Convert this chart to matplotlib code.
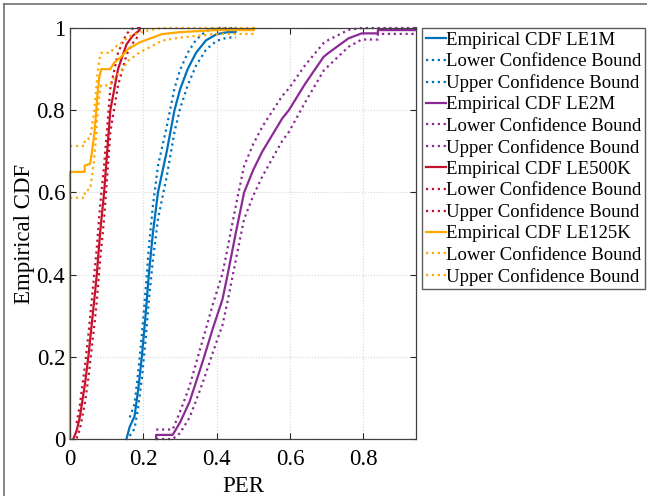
import numpy as np
import matplotlib.pyplot as plt
from matplotlib.lines import Line2D
from matplotlib.ticker import FuncFormatter

plt.rcParams["font.family"] = ["Liberation Serif", "DejaVu Serif"]

# empirical CDF knots (PER, F) for each encoder setting
per_1m = [0.154, 0.163, 0.176, 0.186, 0.196, 0.206, 0.215, 0.226, 0.240, 0.264,
          0.285, 0.300, 0.321, 0.344, 0.371, 0.400, 0.430, 0.452, 0.452]
cdf_1m = [0.0, 0.03, 0.055, 0.12, 0.20, 0.30, 0.40, 0.50, 0.60, 0.70,
          0.80, 0.85, 0.90, 0.94, 0.97, 0.985, 0.99, 0.99, 1.0]

per_2m = [0.235, 0.235, 0.280, 0.300, 0.326, 0.348, 0.366, 0.390, 0.416, 0.430,
          0.452, 0.475, 0.500, 0.525, 0.579, 0.597, 0.642, 0.692, 0.706, 0.760,
          0.796, 0.840, 0.840, 0.944, 0.944]
cdf_2m = [0.0, 0.01, 0.01, 0.04, 0.09, 0.15, 0.20, 0.27, 0.34, 0.40,
          0.50, 0.60, 0.655, 0.70, 0.78, 0.80, 0.865, 0.93, 0.94, 0.975,
          0.987, 0.987, 0.995, 0.995, 1.0]

per_500k = [0.009, 0.018, 0.027, 0.041, 0.050, 0.068, 0.073, 0.082, 0.093, 0.108,
            0.110, 0.131, 0.154, 0.170, 0.190, 0.190]
cdf_500k = [0.0, 0.02, 0.054, 0.135, 0.20, 0.354, 0.40, 0.50, 0.60, 0.776,
            0.80, 0.90, 0.96, 0.98, 0.995, 1.0]

per_125k = [0.0, 0.0, 0.040, 0.040, 0.055, 0.060, 0.066, 0.070, 0.075, 0.080,
            0.085, 0.110, 0.120, 0.140, 0.160, 0.190, 0.220, 0.250, 0.300, 0.400,
            0.502, 0.502]
cdf_125k = [0.0, 0.65, 0.65, 0.665, 0.67, 0.70, 0.74, 0.78, 0.84, 0.88,
            0.90, 0.90, 0.915, 0.93, 0.95, 0.965, 0.975, 0.985, 0.99, 0.995,
            0.995, 1.0]

series = [
    ("LE1M", per_1m, cdf_1m, "#0072BD"),
    ("LE2M", per_2m, cdf_2m, "#8B2A96"),
    ("LE500K", per_500k, cdf_500k, "#C4122F"),
    ("LE125K", per_125k, cdf_125k, "#FFA800"),
]
n_samples = 220  # trials per setting, sets the width of the Greenwood bounds


def greenwood_bounds(F, n, z=1.96):
    F = np.asarray(F, dtype=float)
    d = z * np.sqrt(F * (1 - F) / n)
    lo = np.clip(F - d, 0, 1)
    hi = np.clip(F + d, 0, 1)
    edge = (F <= 0) | (F >= 1)
    lo[edge] = np.nan
    hi[edge] = np.nan
    return lo, hi


fig = plt.figure(figsize=(6.47, 4.96), dpi=100)
ax = fig.add_axes([0.1082, 0.1149, 0.5348, 0.8286])

for name, per, cdf, col in series:
    lo, hi = greenwood_bounds(cdf, n_samples)
    ax.plot(per, cdf, color=col, lw=1.6, clip_on=False,
            label=f"Empirical CDF {name}")
    ax.plot(per, lo, color=col, lw=1.6, ls=":", clip_on=False,
            label="Lower Confidence Bound")
    ax.plot(per, hi, color=col, lw=1.6, ls=":", clip_on=False,
            label="Upper Confidence Bound")

ax.set_xlim(0, 0.944)
ax.set_ylim(0, 1)
ax.set_xticks([0, 0.2, 0.4, 0.6, 0.8])
ax.set_yticks([0, 0.2, 0.4, 0.6, 0.8, 1])
fmt = FuncFormatter(lambda v, p: f"{v:g}")
ax.xaxis.set_major_formatter(fmt)
ax.yaxis.set_major_formatter(fmt)
ax.tick_params(direction="in", length=4, width=0.8, labelsize=16.5,
               top=True, right=True, colors="#262626", labelcolor="black")
ax.tick_params(axis="x", pad=7)
ax.grid(True, ls=":", lw=0.8, color="#d6d6d6")
for s in ax.spines.values():
    s.set_color("#404040")
    s.set_linewidth(0.9)
ax.set_xlabel("PER", fontsize=16.5, labelpad=4.5)
ax.set_ylabel("Empirical CDF", fontsize=16.5, labelpad=1)

leg = fig.legend(loc="upper left", bbox_to_anchor=(0.652, 0.9435),
                 bbox_transform=fig.transFigure, borderaxespad=0,
                 fontsize=13.5, handlelength=1.1, handletextpad=0.0,
                 labelspacing=0.22, borderpad=0.2, fancybox=False,
                 frameon=True)
leg.get_frame().set_edgecolor("#333333")
leg.get_frame().set_linewidth(1.0)

# outer frame along the top and left of the figure
fig.add_artist(Line2D([0.006, 1.0], [0.992, 0.992], color="#707070", lw=1.2))
fig.add_artist(Line2D([0.006, 0.006], [0.0, 0.992], color="#707070", lw=1.2))

fig.savefig("out.png", dpi=100)
